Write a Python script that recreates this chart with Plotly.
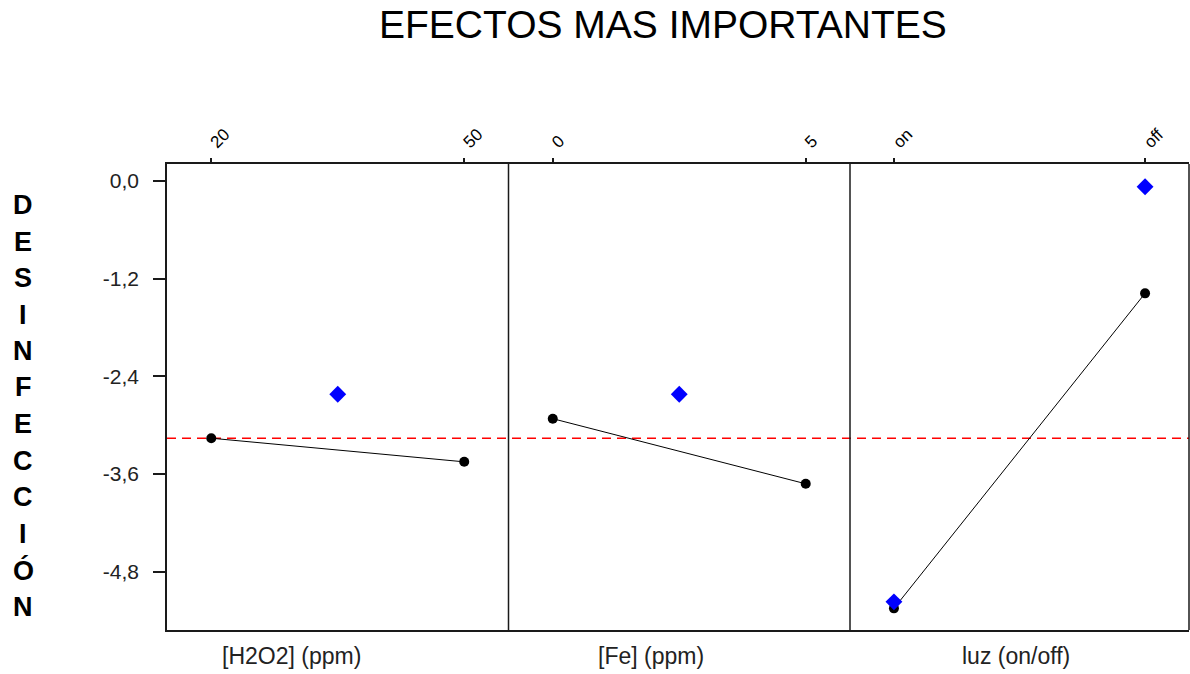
import plotly.graph_objects as go

# ---- data ----
title_text = "EFECTOS MAS IMPORTANTES"
factor_labels = ["[H2O2] (ppm)", "[Fe] (ppm)", "luz (on/off)"]
level_labels = [["20", "50"], ["0", "5"], ["on", "off"]]
level_pos = [0, 1]
level_means = [[-3.16, -3.45], [-2.92, -3.72], [-5.25, -1.38]]
diamond_pos = [[0.5], [0.5], [0, 1]]
diamond_vals = [[-2.62], [-2.62], [-5.17, -0.07]]
grand_mean = -3.16
y_ticks = [0.0, -1.2, -2.4, -3.6, -4.8]
y_tick_labels = ["0,0", "-1,2", "-2,4", "-3,6", "-4,8"]
ylabel_letters = list("DESINFECCIÓN")

# ---- layout geometry (page pixels; body margin removed below) ----
W, H = 1190, 674


def px(p):
    return p / W


def py(p):
    return 1 - p / H


bounds = [px(167), px(508.5), px(850), px(1189)]
ydom = [py(630), py(164)]
xr = [-0.175, 1.175]
yr = [-5.516, 0.209]
FONT = "Liberation Sans, Arial, sans-serif"
LINE = "#1a1a1a"

fig = go.Figure()
for i in range(3):
    xa = "x" if i == 0 else f"x{i+1}"
    fig.add_trace(go.Scatter(
        x=level_pos, y=level_means[i], xaxis=xa, yaxis="y",
        mode="lines+markers",
        line=dict(color="black", width=1),
        marker=dict(color="black", size=10, symbol="circle"),
        showlegend=False, hoverinfo="skip"))
    fig.add_trace(go.Scatter(
        x=diamond_pos[i], y=diamond_vals[i], xaxis=xa, yaxis="y",
        mode="markers",
        marker=dict(color="#0000ff", size=13, symbol="diamond"),
        showlegend=False, hoverinfo="skip"))

layout = dict(
    width=W, height=H,
    margin=dict(l=0, r=0, t=0, b=0),
    paper_bgcolor="white", plot_bgcolor="white",
    font=dict(family=FONT, color="black"),
    yaxis=dict(domain=ydom, range=yr, anchor="x",
               tickvals=y_ticks, ticktext=y_tick_labels,
               ticks="outside", ticklen=12, tickwidth=1.5, tickcolor=LINE,
               ticklabelstandoff=10,
               tickfont=dict(size=21, family=FONT, color="#222"),
               showline=True, linecolor=LINE, linewidth=1.5,
               showgrid=False, zeroline=False),
)
for i in range(3):
    key = "xaxis" if i == 0 else f"xaxis{i+1}"
    layout[key] = dict(
        domain=[bounds[i], bounds[i + 1]], range=xr, anchor="y", side="top",
        tickvals=level_pos, ticktext=level_labels[i], tickangle=-45,
        ticks="outside", ticklen=4, tickwidth=1.5, tickcolor=LINE,
        tickfont=dict(size=17, family=FONT, color="black"),
        showline=True, linecolor=LINE, linewidth=1.5, mirror=True,
        showgrid=False, zeroline=False)
fig.update_layout(**layout)

shapes = []
for b in bounds[1:]:
    shapes.append(dict(type="line", xref="paper", yref="paper",
                       x0=b, x1=b, y0=ydom[0], y1=ydom[1],
                       line=dict(color=LINE, width=1.5)))
shapes.append(dict(type="line", xref="paper", yref="y",
                   x0=bounds[0], x1=bounds[-1], y0=grand_mean, y1=grand_mean,
                   line=dict(color="#ff0000", width=1.5, dash="9px,6px"),
                   layer="below"))
fig.update_layout(shapes=shapes)

ann = [dict(text=title_text, xref="paper", yref="paper",
            x=px(663), y=py(24), xanchor="center", yanchor="middle",
            showarrow=False, font=dict(size=39, family=FONT, color="black"))]
label_x = [291, 651, 1016]
for i, lab in enumerate(factor_labels):
    ann.append(dict(text=lab, xref="paper", yref="paper",
                    x=px(label_x[i]), y=py(656),
                    xanchor="center", yanchor="middle", showarrow=False,
                    font=dict(size=23, family=FONT, color="#222")))
for j, ch in enumerate(ylabel_letters):
    ann.append(dict(text=f"<b>{ch}</b>", xref="paper", yref="paper",
                    x=px(23), y=py(205 + j * 36.5),
                    xanchor="center", yanchor="middle", showarrow=False,
                    font=dict(size=27, family=FONT, color="black")))
fig.update_layout(annotations=ann)

fig.write_html("out.html",
               config={"displayModeBar": False},
               post_script="document.body.style.margin='0';"
                           "document.body.style.overflow='hidden';")
